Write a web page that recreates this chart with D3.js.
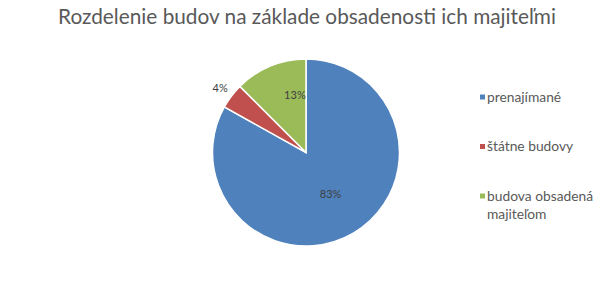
<!DOCTYPE html>
<html>
<head>
<meta charset="utf-8">
<script src="https://cdn.jsdelivr.net/npm/d3@7"></script>
<style>
  body { margin: 0; background: #fff; }
  text { font-family: Lato, "Open Sans", sans-serif; fill: #595959; }
</style>
</head>
<body>
<svg class="chart" width="612" height="294"></svg>
<script>
const categories = ["prenajímané", "štátne budovy", "budova obsadená majiteľom"]
const values = [83.1, 4.4, 12.5]
const colors = ["#4f81bd", "#c0504d", "#9bbb59"]
const title = "Rozdelenie budov na základe obsadenosti ich majiteľmi"

const svg = d3.select("svg.chart")
const cx = 306, cy = 152.5, radius = 93.5

svg.append("text")
	.attr("x", 307)
	.attr("y", 24)
	.attr("text-anchor", "middle")
	.style("font-size", "20.8px")
	.text(title)

const pie = d3.pie().sort(null).value(d => d)
const arcs = pie(values)
const arc = d3.arc().innerRadius(0).outerRadius(radius)

const pieGroup = svg.append("g")
	.attr("transform", "translate(" + cx + "," + cy + ")")

pieGroup.selectAll("path")
	.data(arcs)
	.enter()
	.append("path")
	.attr("d", arc)
	.attr("fill", (d, i) => colors[i])
	.attr("stroke", "#fff")
	.attr("stroke-width", 1.5)

// label radius per slice, roughly where Excel put them
const labelFactor = [0.52, 1.15, 0.62]
pieGroup.selectAll("text")
	.data(arcs)
	.enter()
	.append("text")
	.attr("transform", (d, i) => {
		const r = radius * labelFactor[i]
		const a = (d.startAngle + d.endAngle) / 2 + (i === 2 ? 0.2 : 0)
		return "translate(" + (Math.sin(a) * r) + "," + (-Math.cos(a) * r) + ")"
	})
	.attr("text-anchor", "middle")
	.attr("dy", "0.35em")
	.style("font-size", "11px")
	.style("fill", "#404040")
	.text(d => Math.round(d.value) + "%")

// legend
const legendY = d3.scalePoint().domain(categories).range([97, 196])
const legend = svg.selectAll("g.legend")
	.data(categories)
	.enter()
	.append("g")
	.attr("class", "legend")
	.attr("transform", d => "translate(480," + legendY(d) + ")")

legend.append("rect")
	.attr("x", 0)
	.attr("y", -2.5)
	.attr("width", 5)
	.attr("height", 5)
	.attr("fill", (d, i) => colors[i])

legend.append("text")
	.style("font-size", "13.8px")
	.each(function (d) {
		const t = d3.select(this)
		const words = d === "budova obsadená majiteľom" ? ["budova obsadená", "majiteľom"] : [d]
		words.forEach((w, j) => {
			t.append("tspan").attr("x", 7).attr("dy", j === 0 ? "0.35em" : "1.3em").text(w)
		})
	})
</script>
</body>
</html>
